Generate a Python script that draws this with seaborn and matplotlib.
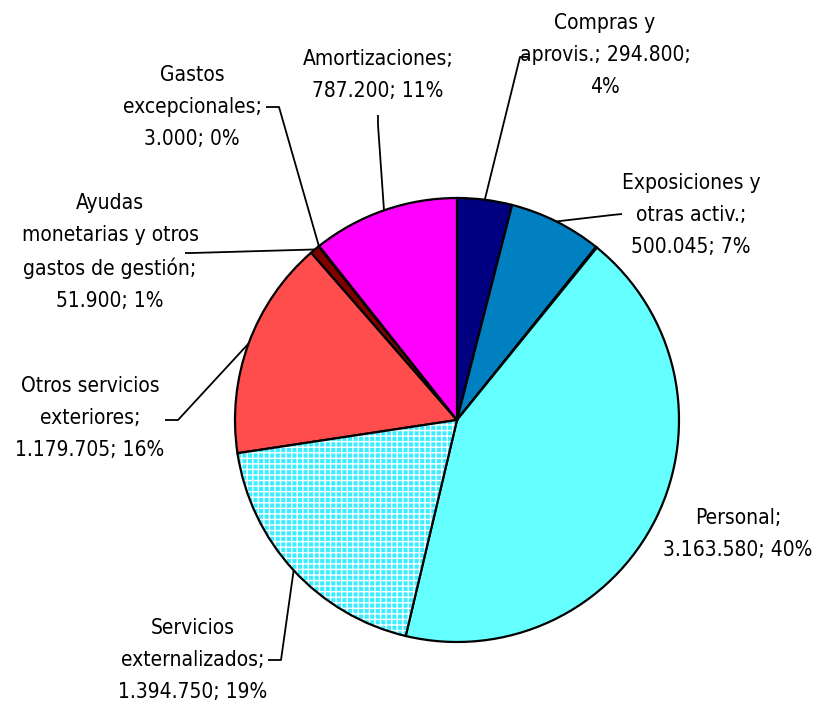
import numpy as np
import matplotlib
matplotlib.use("Agg")
import matplotlib.pyplot as plt
from matplotlib.patches import Wedge
import seaborn as sns

# Slices, clockwise from 12 o'clock
categories = ["Compras y\naprovis.", "Exposiciones y\notras activ.", "", "Personal",
              "Servicios\nexternalizados", "Otros servicios\nexteriores",
              "Ayudas\nmonetarias y otros\ngastos de gestión", "Gastos\nexcepcionales",
              "Amortizaciones"]
values = [294.8, 500.045, 6.0, 3163.58, 1394.75, 1179.705, 51.9, 3.0, 787.2]
label_texts = [
    "Compras y\naprovis.; 294.800;\n4%",
    "Exposiciones y\notras activ.;\n500.045; 7%",
    None,
    "Personal;\n3.163.580; 40%",
    "Servicios\nexternalizados;\n1.394.750; 19%",
    "Otros servicios\nexteriores;\n1.179.705; 16%",
    "Ayudas\nmonetarias y otros\ngastos de gestión;\n51.900; 1%",
    "Gastos\nexcepcionales;\n3.000; 0%",
    "Amortizaciones;\n787.200; 11%",
]
colors = ["#000080", "#0080C0", "#3A0000", "#66FFFF", "#66F4FF",
          "#FF4C4C", "#800000", "#C0C0FF", "#FF00FF"]

W, H = 815, 705
CX, CY, R = 457, 420, 222

# label layout (pixel coords, y from top): text centre, leader start, leader elbow
label_pos = [(605, 55), (691, 215), None, (738, 534), (193, 660),
             (90, 418), (110, 252), (192, 107), (378, 75)]
leader_start = [(528, 57), (622, 214), None, None, (268, 660),
                (165, 420), (185, 253), (266, 107), (378, 115)]
leader_elbow = [(520, 57), (612, 215), None, None, (281, 660),
                (178, 420), (192, 253), (279, 107), (378, 125)]

sns.set_theme(style="white")
plt.rcParams["font.family"] = ["DejaVu Sans"]
plt.rcParams["hatch.linewidth"] = 1.0

fig = plt.figure(figsize=(W / 100, H / 100), dpi=100)
ax = fig.add_axes([0, 0, 1, 1])

wedges, _ = ax.pie(values, colors=colors, startangle=90, counterclock=False,
                   center=(CX, H - CY), radius=R, frame=True,
                   wedgeprops=dict(edgecolor="black", linewidth=1.6))
ax.set_xlim(0, W)
ax.set_ylim(0, H)
ax.axis("off")

# hatched slice (Servicios externalizados): cyan with a fine white grid
hw = wedges[4]
hw.set_visible(False)
ax.add_patch(Wedge(hw.center, hw.r, hw.theta1, hw.theta2, facecolor="#3AEEFF",
                   edgecolor="white", linewidth=0, hatch="+++", zorder=hw.get_zorder()))
ax.add_patch(Wedge(hw.center, hw.r, hw.theta1, hw.theta2, fill=False,
                   edgecolor="black", linewidth=1.6, zorder=hw.get_zorder() + 0.1))

for i, w in enumerate(wedges):
    txt = label_texts[i]
    if txt is None:
        continue
    tx, ty = label_pos[i]
    ax.text(tx, H - ty, txt, ha="center", va="center", fontsize=15,
            fontstretch="condensed", linespacing=1.74, color="black")
    if leader_start[i] is not None:
        mid = np.deg2rad((w.theta1 + w.theta2) / 2)
        ex = w.center[0] + R * np.cos(mid)
        ey = w.center[1] + R * np.sin(mid)
        sx, sy = leader_start[i]
        bx, by = leader_elbow[i]
        ax.plot([sx, bx, ex], [H - sy, H - by, ey], color="black", lw=1.3,
                solid_capstyle="butt")

fig.savefig("out.png", dpi=100)
